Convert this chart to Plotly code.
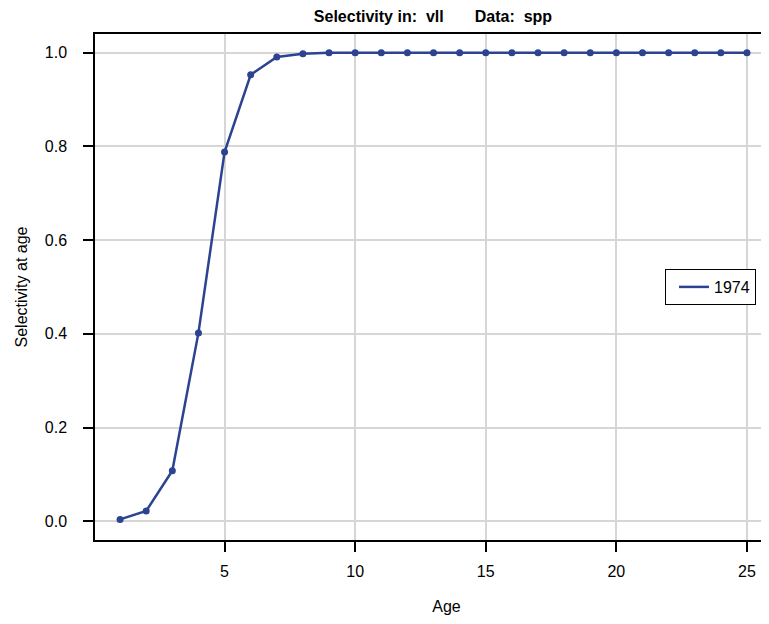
import plotly.graph_objects as go

ages = list(range(1, 26))
selectivity = [0.004, 0.022, 0.108, 0.402, 0.788, 0.953, 0.991, 0.998, 1.0, 1.0,
               1.0, 1.0, 1.0, 1.0, 1.0, 1.0, 1.0, 1.0, 1.0, 1.0,
               1.0, 1.0, 1.0, 1.0, 1.0]
series_name = "1974"
x_ticks = [5, 10, 15, 20, 25]
y_ticks = [0.0, 0.2, 0.4, 0.6, 0.8, 1.0]

color = "#2b4390"
font = "Liberation Sans, Arial, sans-serif"
FS = 16

# plot area deliberately runs past the right edge of the window, as in the reference
W, H = 790, 608
L, T, B = 87, 26, 76
plot_w = W - L
plot_h = H - T - B
x_max = 0.04 + plot_w / 26.12

fig = go.Figure()
fig.add_trace(go.Scatter(
    x=ages, y=selectivity, mode="lines", name=series_name,
    line=dict(color=color, width=2.5),
))
fig.add_trace(go.Scatter(
    x=ages, y=selectivity, mode="markers", name=series_name, showlegend=False,
    marker=dict(color=color, size=7),
))

fig.update_layout(
    width=W, height=H,
    margin=dict(l=L, r=0, t=T, b=B, autoexpand=False),
    paper_bgcolor="white", plot_bgcolor="white",
    font=dict(family=font, size=FS, color="black"),
    title=dict(text="<b>Selectivity in:  vll       Data:  spp</b>",
               x=425 / W, xanchor="center", y=1 - 8 / H, yanchor="middle",
               font=dict(size=FS, family=font)),
    showlegend=True,
    legend=dict(x=(657 - L) / plot_w, xanchor="left", y=(532 - 279) / plot_h, yanchor="middle",
                bordercolor="black", borderwidth=1, bgcolor="white", indentation=8,
                font=dict(size=FS, family=font), itemwidth=30),
    xaxis=dict(range=[0.04, x_max], tickvals=x_ticks, showgrid=True, gridcolor="#d6d6d6",
               gridwidth=1.5, zeroline=False, showline=True, linecolor="black", linewidth=1.5,
               mirror=True, ticks="outside", ticklen=10, tickcolor="black", tickwidth=1.5,
               title=dict(text="Age", standoff=22, font=dict(size=FS)),
               tickfont=dict(size=FS), ticklabelstandoff=6),
    yaxis=dict(range=[-0.04, 1.04], tickvals=y_ticks, tickformat=".1f", showgrid=True,
               gridcolor="#d6d6d6", gridwidth=1.5, zeroline=False, showline=True,
               linecolor="black", linewidth=1.5, ticks="outside", ticklen=10,
               tickcolor="black", tickwidth=1.5,
               title=dict(text="Selectivity at age", standoff=13, font=dict(size=FS)),
               tickfont=dict(size=FS), ticklabelstandoff=13),
)

fig.write_html("out.html")
